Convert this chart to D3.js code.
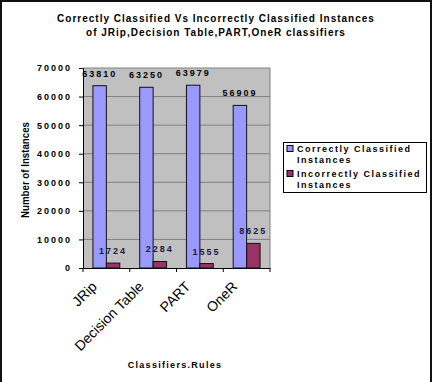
<!DOCTYPE html>
<html><head><meta charset="utf-8">
<script src="https://cdn.jsdelivr.net/npm/d3@7"></script>
<style>body{margin:0;background:#fff}svg{display:block;font-family:"Liberation Sans",Arial,sans-serif}</style>
</head><body><svg id="c" width="432" height="382"></svg>
<script>
const categories = ["JRip","Decision Table","PART","OneR"];
const seriesNames = ["Correctly Classified Instances","Incorrectly Classified Instances"];
const correct = [63810,63250,63979,56909];
const incorrect = [1724,2284,1555,8625];
const yTicks = [0,10000,20000,30000,40000,50000,60000,70000];
const titleLines = ["Correctly Classified Vs Incorrectly Classified Instances","of JRip,Decision Table,PART,OneR classifiers"];
const colors = ["#9999ff","#993366"];

const svg = d3.select("#c");
svg.append("rect").attr("x",1).attr("y",1).attr("width",430).attr("height",390)
  .attr("fill","#fff").attr("stroke","#111").attr("stroke-width",2);

const L=83,R=270,T=68,B=268;
const y = d3.scaleLinear().domain([0,70000]).range([B,T]);
const x = d3.scaleBand().domain(categories).range([L,R]).padding(0);
const xs = d3.scaleBand().domain([0,1]).range([0,x.bandwidth()]).paddingInner(0).paddingOuter(0.74);

svg.append("rect").attr("x",L).attr("y",T).attr("width",R-L).attr("height",B-T).attr("fill","#c0c0c0");
svg.append("g").selectAll("line").data(yTicks.slice(1)).join("line")
  .attr("x1",L).attr("x2",R).attr("y1",d=>y(d)).attr("y2",d=>y(d)).attr("stroke","#808080").attr("stroke-width",1);
svg.append("line").attr("x1",R).attr("x2",R).attr("y1",T).attr("y2",B).attr("stroke","#808080");

// y axis
const yAxis = svg.append("g").attr("transform",`translate(${L},0)`)
  .call(d3.axisLeft(y).tickValues(yTicks).tickSize(4).tickPadding(7));
yAxis.select(".domain").attr("stroke","#000");
yAxis.selectAll("text").attr("font-size",9).attr("font-weight","bold").attr("fill","#000")
  .attr("font-family","Liberation Sans, Arial").style("letter-spacing","2px")
  .text(d=>String(d));
// x axis
const xAxis = svg.append("g").attr("transform",`translate(0,${B})`)
  .call(d3.axisBottom(x).tickSize(0).tickFormat(""));
xAxis.select(".domain").attr("stroke","#000");
svg.append("g").selectAll("line").data(categories.map(c=>x(c)).concat([R])).join("line")
  .attr("x1",d=>d).attr("x2",d=>d).attr("y1",B).attr("y2",B+4).attr("stroke","#000");

// bars
const g = svg.append("g");
[correct,incorrect].forEach((vals,s)=>{
  g.selectAll(".b"+s).data(categories).join("rect")
    .attr("x",c=>x(c)+xs(s)).attr("width",xs.bandwidth())
    .attr("y",(c,i)=>y(vals[i])).attr("height",(c,i)=>B-y(vals[i]))
    .attr("fill",colors[s]).attr("stroke","#111").attr("stroke-width",1);
  g.selectAll(".l"+s).data(categories).join("text")
    .attr("x",c=>x(c)+xs(s)+xs.bandwidth()/2).attr("y",(c,i)=>y(vals[i])-9)
    .attr("text-anchor","middle").attr("font-size",9).attr("font-weight","bold")
    .style("letter-spacing","2px").attr("fill",s===0?"#000":"#1a1a40")
    .text((c,i)=>vals[i]);
});

// x labels
svg.append("g").selectAll("text").data(categories).join("text")
  .attr("transform",c=>`translate(${x(c)+x.bandwidth()/2-12},${B+16}) rotate(-45)`)
  .attr("text-anchor","end").attr("font-size",14).attr("fill","#000")
  .attr("dy","0.35em").text(c=>c);

// titles
svg.append("g").selectAll("text").data(titleLines).join("text")
  .attr("x",216).attr("y",(d,i)=>22+i*14).attr("text-anchor","middle")
  .attr("font-size",10).attr("font-weight","bold").style("letter-spacing","1px").text(d=>d);
svg.append("text").attr("x",175).attr("y",368).attr("text-anchor","middle")
  .attr("font-size",9).attr("font-weight","bold").style("letter-spacing","1.3px").text("Classifiers.Rules");
svg.append("text").attr("transform","translate(29,170) rotate(-90)").attr("text-anchor","middle")
  .attr("font-size",10).attr("font-weight","bold").attr("textLength",96).attr("lengthAdjust","spacingAndGlyphs")
  .text("Number of Instances");

// legend
const lg = svg.append("g");
lg.append("rect").attr("x",283.5).attr("y",142.5).attr("width",143).attr("height",50).attr("fill","#fff").attr("stroke","#000");
const legLines = [["Correctly Classified","Instances"],["Incorrectly Classified","Instances"]];
seriesNames.forEach((n,i)=>{
  const yy = 151.5 + i*25;
  lg.append("rect").attr("x",287).attr("y",yy-6).attr("width",6).attr("height",6).attr("fill",colors[i]).attr("stroke","#000");
  legLines[i].forEach((t,j)=>{
    lg.append("text").attr("x",297).attr("y",yy+j*11.5).attr("font-size",9).attr("font-weight","bold")
      .style("letter-spacing","1.5px").text(t);
  });
});
</script></body></html>
